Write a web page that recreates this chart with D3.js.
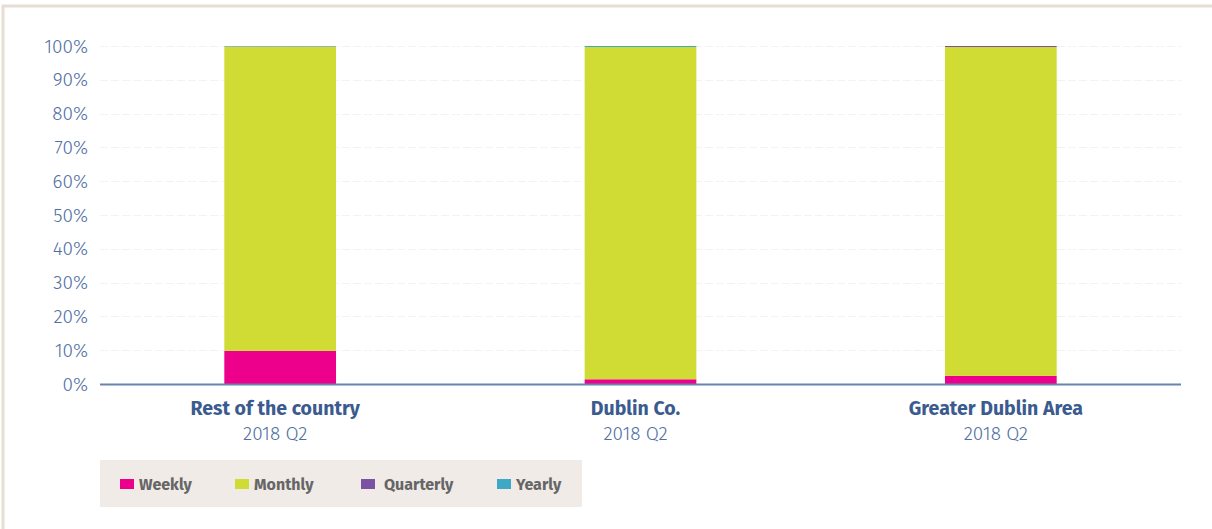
<!DOCTYPE html>
<html>
<head>
<meta charset="utf-8">
<script src="https://cdn.jsdelivr.net/npm/d3@7"></script>
<style>
  body { margin: 0; background: #fff; }
  svg { display: block; font-family: "Fira Sans", "Open Sans", sans-serif; }
</style>
</head>
<body>
<div id="chart"></div>
<script>
const categories = ['Rest of the country', 'Dublin Co.', 'Greater Dublin Area']
const period = '2018 Q2'
const seriesNames = ['Weekly', 'Monthly', 'Quarterly', 'Yearly']
const weekly = [9.8, 1.4, 2.4]
const monthly = [90.0, 98.3, 97.3]
const quarterly = [0.1, 0.0, 0.3]
const yearly = [0.1, 0.3, 0.0]
const yTicks = [0, 10, 20, 30, 40, 50, 60, 70, 80, 90, 100]
const colors = ['#ec008c', '#d0dc34', '#7b52a1', '#3fa9c5']

const width = 1212
const height = 529
const margin = { left: 100, right: 31, top: 46, bottom: 145 }

const svg = d3.select('#chart').append('svg')
  .attr('width', width)
  .attr('height', height)

// outer frame
svg.append('rect')
  .attr('x', 3).attr('y', 6)
  .attr('width', width + 10).attr('height', height + 10)
  .attr('fill', 'none')
  .attr('stroke', '#e6ddd5')
  .attr('stroke-width', 3)

const rows = categories.map((c, i) => ({
  category: c,
  Weekly: weekly[i],
  Monthly: monthly[i],
  Quarterly: quarterly[i],
  Yearly: yearly[i]
}))

const stacked = d3.stack().keys(seriesNames)(rows)

const x = d3.scaleBand()
  .domain(categories)
  .range([margin.left, width - margin.right])
  .paddingInner(0.69)
  .paddingOuter(0.345)

const y = d3.scaleLinear()
  .domain([0, 100])
  .range([height - margin.bottom, margin.top])

// grid
svg.append('g')
  .selectAll('line')
  .data(yTicks.filter(t => t > 0))
  .join('line')
  .attr('x1', margin.left)
  .attr('x2', width - margin.right)
  .attr('y1', d => Math.round(y(d)) + 0.5)
  .attr('y2', d => Math.round(y(d)) + 0.5)
  .attr('stroke', '#f3f3f3')
  .attr('stroke-dasharray', '8,3')

// y labels
svg.append('g')
  .selectAll('text')
  .data(yTicks)
  .join('text')
  .attr('x', margin.left - 12)
  .attr('y', d => y(d))
  .attr('dy', '0.35em')
  .attr('text-anchor', 'end')
  .attr('fill', '#4f6fa3')
  .style('font-size', '19px')
  .style('font-weight', 300)
  .text(d => d + '%')

// bars
svg.append('g')
  .selectAll('g')
  .data(stacked)
  .join('g')
  .attr('fill', (d, i) => colors[i])
  .selectAll('rect')
  .data(d => d)
  .join('rect')
  .attr('x', d => x(d.data.category))
  .attr('width', x.bandwidth())
  .attr('y', d => y(d[1]))
  .attr('height', d => y(d[0]) - y(d[1]))

// x axis line
svg.append('line')
  .attr('x1', margin.left)
  .attr('x2', width - margin.right)
  .attr('y1', y(0) + 0.5)
  .attr('y2', y(0) + 0.5)
  .attr('stroke', '#6a82ad')
  .attr('stroke-width', 2)

// category labels
const xl = svg.append('g')
  .selectAll('g')
  .data(categories)
  .join('g')
  .attr('transform', d => `translate(${x(d) + x.bandwidth() / 2 - 5}, 0)`)

xl.append('text')
  .attr('y', 415)
  .attr('text-anchor', 'middle')
  .attr('fill', '#3b5b8f')
  .style('font-size', '19.5px')
  .style('font-weight', 'bold')
  .text(d => d)

xl.append('text')
  .attr('y', 440)
  .attr('text-anchor', 'middle')
  .attr('fill', '#4f6fa3')
  .style('font-size', '19px')
  .style('font-weight', 300)
  .text(period)

// legend
const legend = svg.append('g')
legend.append('rect')
  .attr('x', 100).attr('y', 460)
  .attr('width', 482).attr('height', 47)
  .attr('fill', '#f0ebe6')

const legendX = [120, 235, 361, 497]
const li = legend.selectAll('g.item')
  .data(seriesNames)
  .join('g')
  .attr('class', 'item')
  .attr('transform', (d, i) => `translate(${legendX[i]}, 479)`)

li.append('rect')
  .attr('width', 14).attr('height', 10)
  .attr('fill', (d, i) => colors[i])

li.append('text')
  .attr('x', (d, i) => i === 2 ? 23 : 19)
  .attr('y', 5)
  .attr('dy', '0.35em')
  .attr('fill', '#666')
  .style('font-size', '16px')
  .style('font-weight', 'bold')
  .text(d => d)
</script>
</body>
</html>
